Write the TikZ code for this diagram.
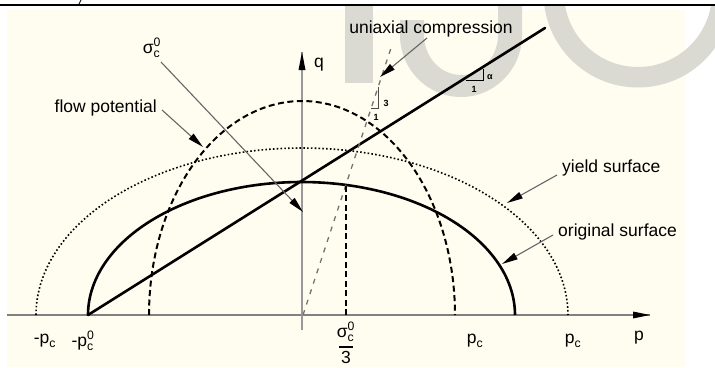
\documentclass[tikz,border=0pt]{standalone}
\usepackage{fontspec}
\setmainfont{Liberation Sans}
\usepackage{amsmath}
\usetikzlibrary{arrows.meta}
\definecolor{cream}{RGB}{255,253,240}
\definecolor{wmark}{RGB}{218,218,210}
\begin{document}
\begin{tikzpicture}[x=1pt,y=-1pt,
  lbl/.style={font=\fontsize{17.5}{20}\selectfont, inner sep=0pt},
  tiny/.style={font=\fontsize{9}{10}\selectfont\bfseries, inner sep=0pt},
  leader/.style={draw=black!60, line width=1.1pt, -{Triangle[length=16pt,width=7pt,color=black]}},
  surforig/.style={line width=2.6pt, black},
  surfyield/.style={line width=1.6pt, black, dash pattern=on 1.6pt off 2.2pt},
  surfflow/.style={line width=2pt, black, dash pattern=on 6pt off 3.5pt},
  uniax/.style={line width=1.3pt, black!55, dash pattern=on 5pt off 6pt},
  axisline/.style={line width=2pt, black!50},
]
\useasboundingbox (0,0) rectangle (715,367);
% background
\fill[white] (0,0) rectangle (715,367);
\fill[cream] (7,10) rectangle (685,367);
% watermark
\begin{scope}
\clip (0,6) rectangle (715,367);
\fill[wmark] (345,0) rectangle (373,83);
\fill[wmark] (522,0) -- (522,35)
  arc[start angle=0,end angle=-180,x radius=61pt,y radius=62pt]
  -- (400,20) -- (424,20) -- (424,35)
  arc[start angle=-180,end angle=0,x radius=37pt,y radius=40pt]
  -- (498,0) -- cycle;
\fill[wmark,even odd rule] (638,-7) circle[radius=94.5pt] (638,-7) circle[radius=74pt];
\end{scope}
% top rule
\draw[line width=2.5pt] (0,5) -- (715,5);
\draw[line width=0.8pt] (81,0) -- (79,4);

% axes
\coordinate (xa0) at (7,315);
\coordinate (xa1) at (650,315);
\coordinate (ya0) at (302,330);
\coordinate (ya1) at (302,52);
\draw[axisline] (xa0) -- (xa1);
\fill (xa1) -- ++(-17,-3.5) -- ++(0,7) -- cycle;
\draw[line width=1.3pt, black!40] (ya0) -- (ya1);
\fill (ya1) -- ++(-3.5,18) -- ++(7,0) -- cycle;

% surfaces
\draw[surfyield] plot[domain=180:0, samples=120] ({302+266*cos(\x)}, {315-167*sin(\x)});
\draw[surfflow] plot[domain=180:0, samples=120] ({302+153*cos(\x)}, {315-214*sin(\x)});
\draw[surforig] plot[domain=180:0, samples=120] ({301.5+213.5*cos(\x)}, {315-133*sin(\x)});

% Drucker-Prager line
\coordinate (dp0) at (88,315);
\coordinate (dp1) at (545,28);
\draw[line width=2.6pt, line cap=round] (dp0) -- (dp1);
\draw[line width=1pt] (466,80) -- (483,80) -- (483,69);
\node[tiny] (alpha) at (490,77) {α};
\node[tiny] (one1) at (474,89) {1};

% uniaxial compression line
\coordinate (u0) at (303,315);
\coordinate (u1) at (391,48);
\draw[uniax] (u0) -- (u1);
\draw[line width=1pt, black!70] (371,108) -- (378,108) -- (378,87);
\node[tiny] (three) at (386,103) {3};
\node[tiny] (one2) at (376,117) {1};

% sigma/3 vertical
\coordinate (s0) at (346,315);
\coordinate (s1) at (346,184);
\draw[surfflow] (s0) -- (s1);

% labels
\node[lbl] (q) at (319,65) {q};
\node[lbl] (uc) at (431,29) {uniaxial compression};
\node[lbl] (sig) at (152,48) {$\text{σ}^{\text{0}}_{\text{c}}$};
\node[lbl, anchor=east] (fp) at (157,108) {flow potential};
\node[lbl, anchor=west] (ys) at (562,168) {yield surface};
\node[lbl, anchor=west] (os) at (558,232) {original surface};

\node[lbl] (mpc) at (45,341) {$\text{-p}_{\text{c}}$};
\node[lbl] (mpc0) at (83,341) {$\text{-p}^{\text{0}}_{\text{c}}$};
\node[lbl] (sg3) at (346,332) {$\text{σ}^{\text{0}}_{\text{c}}$};
\draw[line width=1.5pt] (339,347) -- (353,347);
\node[lbl] (three3) at (346,357) {3};
\node[lbl] (pc1) at (475,341) {$\text{p}_{\text{c}}$};
\node[lbl] (pc2) at (573,341) {$\text{p}_{\text{c}}$};
\node[lbl] (p) at (639,338) {p};

% leaders
\coordinate (tsig) at (303,212);
\coordinate (tfp) at (203,147);
\coordinate (tys) at (507,203);
\coordinate (tos) at (502,264);
\coordinate (tuc) at (380,77);
\draw[leader] (161,62) -- (tsig);
\draw[leader] (162,110) -- (tfp);
\draw[leader] (557,175) -- (tys);
\draw[leader] (553,235) -- (tos);
\draw[leader] (427,38) -- (tuc);
\end{tikzpicture}
\end{document}
